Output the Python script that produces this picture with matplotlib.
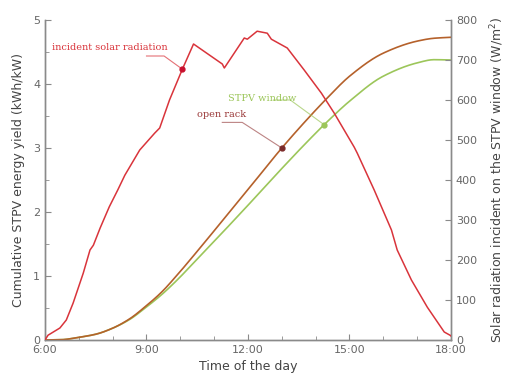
import matplotlib
matplotlib.use("Agg")
import matplotlib.pyplot as plt
import numpy as np
from matplotlib.ticker import MultipleLocator

# Incident solar radiation on the STPV window (W/m^2)
rad_hours = [6.0, 6.09, 6.44, 6.63, 6.83, 7.13, 7.33, 7.43, 7.63, 7.90, 8.15, 8.36, 8.80,
             9.24, 9.39, 9.68, 10.06, 10.39, 11.24, 11.3, 11.89, 11.98, 12.27, 12.57,
             12.69, 13.16, 13.66, 14.17, 14.55, 15.14, 15.23, 15.73, 16.24, 16.41,
             16.83, 17.30, 17.80, 17.97, 18.0]
radiation = [0, 12, 30, 50, 92, 167, 225, 237, 280, 333, 375, 412, 475,
             517, 530, 600, 677, 740, 690, 680, 755, 752, 772, 767,
             752, 730, 675, 617, 567, 482, 467, 375, 275, 225,
             150, 82, 20, 12, 10]

# Cumulative STPV energy yield (kWh/kW)
yield_hours = [6.0, 6.5, 6.98, 7.5, 7.98, 8.5, 8.96, 9.45, 9.93, 10.49, 11.3, 12.06,
               13.0, 13.7, 14.34, 15.02, 15.99, 17.0, 17.5, 18.0]
open_rack = [0, 0.005, 0.04, 0.09, 0.18, 0.33, 0.52, 0.75, 1.03, 1.38, 1.90, 2.39,
             3.00, 3.42, 3.78, 4.13, 4.48, 4.67, 4.715, 4.73]
stpv_window = [0, 0.005, 0.04, 0.09, 0.18, 0.32, 0.50, 0.71, 0.95, 1.26, 1.71, 2.14,
               2.68, 3.07, 3.41, 3.74, 4.12, 4.33, 4.38, 4.375]

xticks = [6, 9, 12, 15, 18]
xtick_labels = ["6:00", "9:00", "12:00", "15:00", "18:00"]

red = "#d9343b"
brown = "#b5612b"
green = "#9cc65a"
gray = "#8a8a8a"
tickc = "#666666"

fig = plt.figure(figsize=(5.05, 3.74), dpi=100)
ax = fig.add_axes([45/505, 34/374, 406/505, 320/374])
ax2 = ax.twinx()

xs = np.linspace(6, 18, 400)


def smooth(x, y):
    # monotone piecewise cubic (PCHIP-style) through the read-off points
    x = np.asarray(x, float); y = np.asarray(y, float)
    h = np.diff(x); d = np.diff(y) / h
    m = np.zeros_like(y)
    for i in range(1, len(y) - 1):
        if d[i-1] * d[i] <= 0:
            m[i] = 0
        else:
            w1 = 2*h[i] + h[i-1]; w2 = h[i] + 2*h[i-1]
            m[i] = (w1 + w2) / (w1/d[i-1] + w2/d[i])
    m[0] = d[0]; m[-1] = d[-1]
    idx = np.clip(np.searchsorted(x, xs) - 1, 0, len(x) - 2)
    t = (xs - x[idx]) / h[idx]
    h00 = 2*t**3 - 3*t**2 + 1; h10 = t**3 - 2*t**2 + t
    h01 = -2*t**3 + 3*t**2; h11 = t**3 - t**2
    return h00*y[idx] + h10*h[idx]*m[idx] + h01*y[idx+1] + h11*h[idx]*m[idx+1]


g_s = smooth(yield_hours, stpv_window)
b_s = smooth(yield_hours, open_rack)
ax.plot(xs, g_s, color=green, lw=1.2, zorder=3)
ax.plot(xs, b_s, color=brown, lw=1.2, zorder=3)
ax2.plot(rad_hours, radiation, color=red, lw=1.1, zorder=3)

ax.set_xlim(6, 18)
ax.set_ylim(0, 5)
ax2.set_ylim(0, 800)
ax.set_xticks(xticks)
ax.set_xticklabels(xtick_labels)
ax.xaxis.set_minor_locator(MultipleLocator(1))
ax.yaxis.set_major_locator(MultipleLocator(1))
ax.yaxis.set_minor_locator(MultipleLocator(0.5))
ax2.yaxis.set_major_locator(MultipleLocator(100))

for a in (ax, ax2):
    a.spines["top"].set_visible(False)
    for s in ("left", "right", "bottom"):
        a.spines[s].set_color(gray)
        a.spines[s].set_linewidth(1.0)
    a.tick_params(which="both", direction="in", colors=gray, labelcolor=tickc, labelsize=8)
    a.tick_params(which="major", length=4)
    a.tick_params(which="minor", length=3)

ax.set_xlabel("Time of the day", fontsize=9, color="#444444", labelpad=4)
ax.set_ylabel("Cumulative STPV energy yield (kWh/kW)", fontsize=9, color="#444444", labelpad=6)
ax2.set_ylabel("Solar radiation incident on the STPV window (W/m$^2$)", fontsize=9,
               color="#444444", labelpad=8)


def label(axis, text, tx, ty, ux0, ux1, uy, px, py, tcol, lcol, dcol):
    axis.text(tx, ty, text, color=tcol, fontsize=7, family="DejaVu Serif",
              ha="left", va="bottom", zorder=5)
    axis.plot([ux0, ux1, px], [uy, uy, py], color=lcol, lw=0.8, alpha=0.7, zorder=4)
    axis.plot([px], [py], "o", color=dcol, ms=3.5, zorder=6)


rad_pt = np.interp(10.06, rad_hours, radiation)
b_pt = np.interp(13.0, xs, b_s)
g_pt = np.interp(14.25, xs, g_s)
label(ax2, "incident solar radiation", 6.2, 720, 9.0, 9.52, 710, 10.06, rad_pt,
      red, red, "#c8102e")
label(ax, "open rack", 10.5, 3.45, 11.24, 11.83, 3.40, 13.0, b_pt,
      "#9b3a3a", "#a05050", "#7b2a2a")
label(ax, "STPV window", 11.4, 3.71, 12.75, 13.25, 3.75, 14.25, g_pt,
      green, green, green)

fig.savefig("out.png", dpi=100)
